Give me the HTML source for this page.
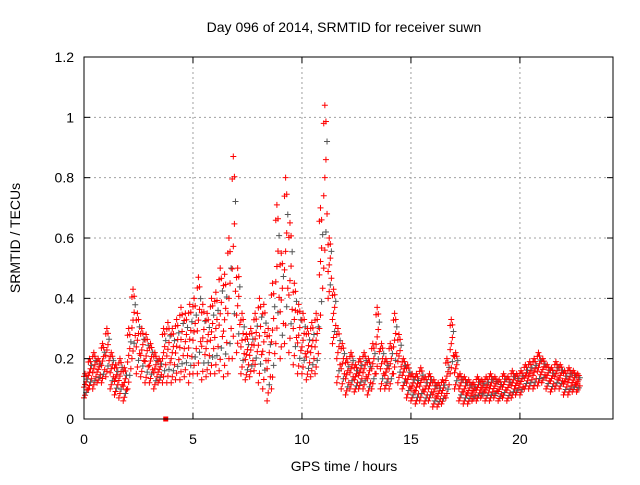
<!DOCTYPE html>
<html><head><meta charset="utf-8">
<style>
body{margin:0;background:#fff;}
svg text{font-family:"Liberation Sans",sans-serif;font-size:14px;fill:#000;}
</style></head>
<body>
<svg id="chart" width="640" height="480" xmlns="http://www.w3.org/2000/svg">
<rect width="640" height="480" fill="#fff"/>
<g id="grid"></g>
<g id="marks"></g>
<rect x="84" y="57" width="529" height="362" fill="none" stroke="#000" stroke-width="1"/>
<g id="axes"></g>
<text x="344" y="32" text-anchor="middle">Day 096 of 2014, SRMTID for receiver suwn</text>
<text x="344" y="471" text-anchor="middle">GPS time / hours</text>
<text x="0" y="0" transform="translate(20,238) rotate(-90)" text-anchor="middle">SRMTID / TECUs</text>
</svg>
<script>
const xTicks=[0,5,10,15,20];
const yTicks=[0,0.2,0.4,0.6,0.8,1,1.2];
const yTickLabels=["0","0.2","0.4","0.6","0.8","1","1.2"];
const timeStep=0.2;
const hiVals=[0.15,0.2,0.22,0.2,0.25,0.3,0.22,0.18,0.2,0.17,0.3,0.43,0.35,0.3,0.28,0.25,0.22,0.2,0.3,0.32,0.3,0.33,0.37,0.35,0.38,0.4,0.47,0.38,0.35,0.4,0.42,0.5,0.48,0.6,0.87,0.5,0.35,0.28,0.3,0.35,0.4,0.38,0.3,0.45,0.71,0.55,0.8,0.65,0.45,0.38,0.35,0.3,0.32,0.35,0.7,1.04,0.6,0.43,0.3,0.25,0.2,0.22,0.18,0.2,0.22,0.2,0.25,0.37,0.25,0.2,0.25,0.35,0.28,0.2,0.18,0.15,0.15,0.17,0.14,0.15,0.13,0.12,0.13,0.2,0.33,0.22,0.15,0.14,0.13,0.12,0.14,0.13,0.14,0.15,0.14,0.13,0.15,0.14,0.16,0.15,0.16,0.18,0.19,0.2,0.22,0.2,0.18,0.17,0.19,0.18,0.16,0.17,0.16,0.15];
const loVals=[0.07,0.1,0.1,0.12,0.12,0.14,0.1,0.08,0.07,0.06,0.1,0.2,0.15,0.14,0.12,0.12,0.1,0.12,0.12,0.12,0.12,0.13,0.13,0.14,0.12,0.15,0.15,0.13,0.14,0.15,0.15,0.16,0.14,0.15,0.2,0.22,0.15,0.13,0.14,0.16,0.12,0.1,0.06,0.1,0.25,0.2,0.25,0.22,0.18,0.15,0.15,0.13,0.14,0.15,0.3,0.5,0.4,0.25,0.12,0.1,0.08,0.1,0.09,0.1,0.1,0.08,0.1,0.15,0.1,0.1,0.1,0.15,0.12,0.1,0.07,0.06,0.05,0.06,0.05,0.06,0.04,0.04,0.05,0.07,0.15,0.1,0.06,0.05,0.05,0.06,0.06,0.07,0.06,0.06,0.07,0.06,0.07,0.06,0.07,0.08,0.08,0.1,0.1,0.1,0.11,0.12,0.1,0.09,0.1,0.1,0.08,0.08,0.09,0.09];
const flagPoint=[3.75,0];

const X0=84,X1=613,Y0=419,Y1=57,XMAX=24.27,YMAX=1.2;
const sx=v=>X0+v/XMAX*(X1-X0);
const sy=v=>Y0-v/YMAX*(Y0-Y1);
const NS="http://www.w3.org/2000/svg";
function mk(tag,attrs,parent){const e=document.createElementNS(NS,tag);for(const k in attrs)e.setAttribute(k,attrs[k]);parent.appendChild(e);return e;}
const grid=document.getElementById('grid'),axes=document.getElementById('axes'),marks=document.getElementById('marks');
yTicks.forEach((t,i)=>{
  const y=sy(t);
  if(i>0&&i<yTicks.length-1){const g=mk('line',{x1:X0,x2:X1,y1:y,y2:y,stroke:'#a0a0a0','stroke-dasharray':'2,3'},grid);
  
  }
  mk('line',{x1:X0,x2:X0+6,y1:y,y2:y,stroke:'#000'},axes);
  mk('line',{x1:X1,x2:X1-6,y1:y,y2:y,stroke:'#000'},axes);
  const tx=mk('text',{x:X0-10,y:y+5,'text-anchor':'end'},axes);tx.textContent=yTickLabels[i];
  
  
});
xTicks.forEach(t=>{
  const x=sx(t);
  if(t>0){const g=mk('line',{x1:x,x2:x,y1:Y0,y2:Y1,stroke:'#a0a0a0','stroke-dasharray':'2,3'},grid);
  
  }
  mk('line',{x1:x,x2:x,y1:Y0,y2:Y0-6,stroke:'#000'},axes);
  mk('line',{x1:x,x2:x,y1:Y1,y2:Y1+6,stroke:'#000'},axes);
  const tx=mk('text',{x:x,y:Y0+25,'text-anchor':'middle'},axes);tx.textContent=String(t);
  
  
});
function plus(x,y,color){
  const p=mk('path',{d:`M${x-3},${y}h6M${x},${y-3}v6`,stroke:color,'stroke-width':1},marks);
  
  
}
hiVals.forEach((hi,i)=>{
  const lo=loVals[i];const t=i*timeStep;
  const steps=9;
  for(let k=0;k<=steps;k++){
    const v=lo+(hi-lo)*k/steps;
    const tt=t+(k%4)*timeStep/4;
    plus(sx(tt),sy(v),k%5==2?'#555':'#f00');
  }
  plus(sx(t+timeStep/2),sy(hi*0.9+lo*0.1),'#f00');
});
const sq=mk('rect',{x:sx(flagPoint[0])-2.5,y:sy(flagPoint[1])-2.5,width:5,height:5,fill:'#f00'},marks);


</script>
</body></html>
